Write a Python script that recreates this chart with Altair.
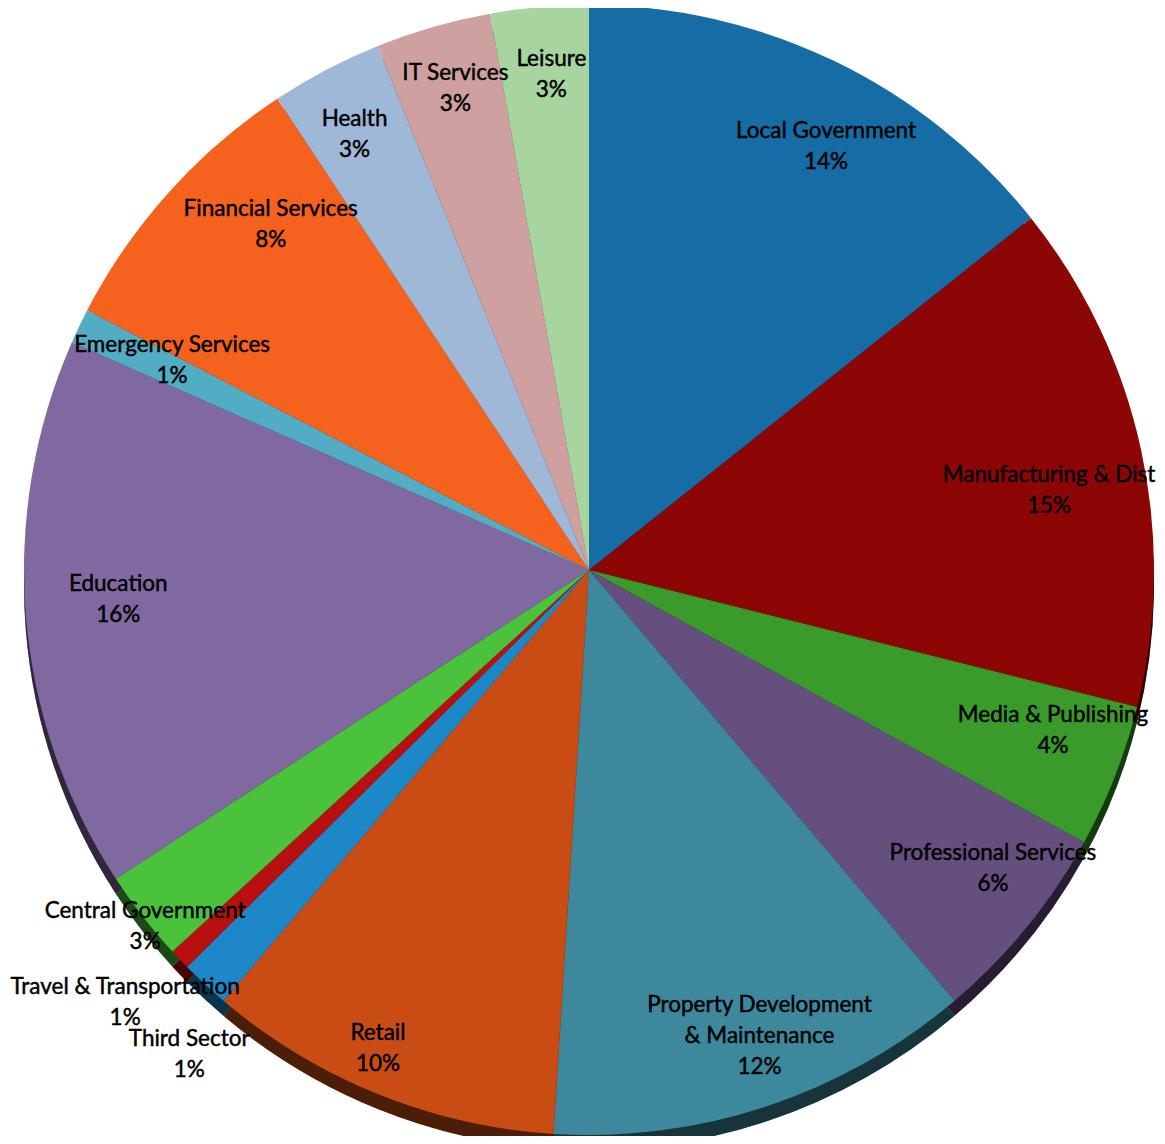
import altair as alt
import pandas as pd

# ---- data ----
sectors = [
    "Local Government", "Manufacturing & Dist", "Media & Publishing",
    "Professional Services", "Property Development & Maintenance", "Retail",
    "Third Sector", "Travel & Transportation", "Central Government",
    "Education", "Emergency Services", "Financial Services", "Health",
    "IT Services", "Leisure",
]
display_names = [
    "Local Government", "Manufacturing & Dist", "Media & Publishing",
    "Professional Services", "Property Development\n& Maintenance", "Retail",
    "Third Sector", "Travel & Transportation", "Central Government",
    "Education", "Emergency Services", "Financial Services", "Health",
    "IT Services", "Leisure",
]
values = [14.3, 14.6, 4.1, 5.8, 12.2, 10.2, 1.4, 0.6, 2.6, 15.8, 1.0, 8.1, 3.2, 3.3, 2.8]
pct_labels = ["14%", "15%", "4%", "6%", "12%", "10%", "1%", "1%", "3%",
              "16%", "1%", "8%", "3%", "3%", "3%"]

# ---- style / layout ----
colors = ["#166ca4", "#8c0606", "#3a9a2a", "#644f7e", "#3d889c", "#c94c14",
          "#1c88c8", "#b81010", "#4bc23c", "#8068a0", "#52acc4", "#f5621e",
          "#a0b8d8", "#cfa0a0", "#a8d4a0"]
label_radius = [479, 463, 490, 503, 486, 529, 634, 640, 575, 475, 467, 468, 491, 495, 492]
label_dangle = [3.5, 3.0, -1.6, -2.1, -1.8, 1.9, -3.4, 0.4, -1.2, 0.5, 0.4, 4.7, -1.2, 0.0, 0.3]

W, H = 1149, 1128
CX, CY = 581, 562      # pie centre (chart coords)
LX, LY = 584, 541      # label polar origin
R = 565
DEPTH = 15

df = pd.DataFrame({
    "idx": list(range(len(sectors))),
    "sector": sectors,
    "value": values,
    "label": [n + "\n" + p for n, p in zip(display_names, pct_labels)],
    "lr": label_radius,
    "da": label_dangle,
})

color = alt.Color("sector:N", scale=alt.Scale(domain=sectors, range=colors), legend=None)
theta = alt.Theta("value:Q", stack=True)
order = alt.Order("idx:Q")

base = alt.Chart(df)

depth = base.mark_arc(radius=R).encode(
    theta=theta, color=color, order=order,
    x=alt.value(CX), y=alt.value(CY + DEPTH),
)
depth_shade = base.mark_arc(radius=R, color="black", opacity=0.62).encode(
    theta=theta, order=order,
    x=alt.value(CX), y=alt.value(CY + DEPTH),
)
top = base.mark_arc(radius=R).encode(
    theta=theta, color=color, order=order,
    x=alt.value(CX), y=alt.value(CY),
)
labels = base.transform_window(
    cum="sum(value)", sort=[alt.SortField("idx")], frame=[None, 0]
).transform_joinaggregate(
    total="sum(value)"
).transform_calculate(
    mid="(datum.cum - datum.value / 2) / datum.total * 2 * PI + datum.da * PI / 180",
).transform_calculate(
    lx=f"{LX} + datum.lr * sin(datum.mid)",
    ly=f"{LY} - datum.lr * cos(datum.mid)",
).mark_text(
    lineBreak="\n", lineHeight=31, font="Lato", fontSize=22.5,
    color="#000000", stroke="#000000", strokeWidth=0.45,
    align="center", baseline="middle",
).encode(
    x=alt.X("lx:Q", scale=None),
    y=alt.Y("ly:Q", scale=None),
    text="label:N",
)

chart = alt.layer(depth, depth_shade, top, labels).properties(
    width=W, height=H, padding=0, autosize="none", background="white",
).configure_view(stroke=None)

chart.save("out.html", embed_options={"renderer": "svg", "actions": False})
